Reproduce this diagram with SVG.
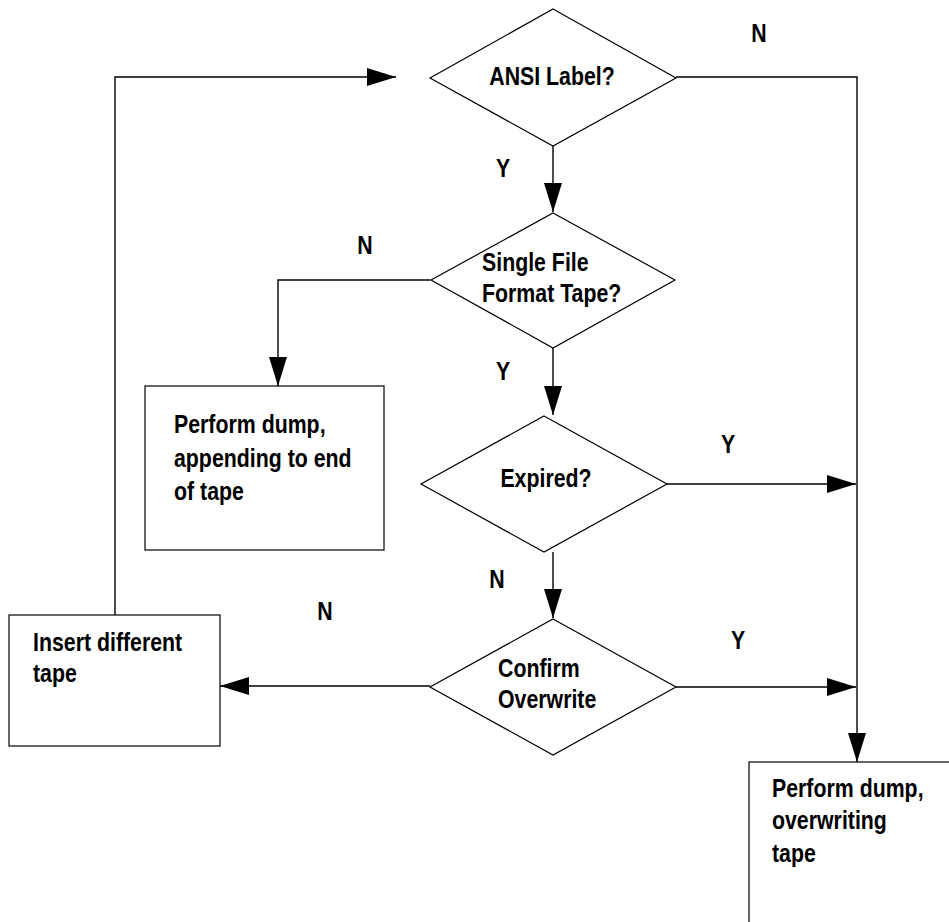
<svg xmlns="http://www.w3.org/2000/svg" width="949" height="922" viewBox="0 0 949 922">
  <style>
    .shape { fill: #ffffff; stroke: #000000; stroke-width: 1.2; }
    .link { fill: none; stroke: #000000; stroke-width: 1.4; }
    text { font-family: "Liberation Sans", Arial, sans-serif; font-weight: bold; font-size: 26px; fill: #000000; }
    .mid { text-anchor: middle; }
  </style>
  <defs>
    <marker id="arrow" markerUnits="userSpaceOnUse" markerWidth="30" markerHeight="18" refX="29" refY="9" orient="auto">
      <path d="M0,0 L29,9 L0,18 Z" fill="#000000"/>
    </marker>
  </defs>

  <!-- connectors -->
  <g id="connectors">
    <path class="link" d="M115,615 L115,77 L396,77" marker-end="url(#arrow)"/>
    <path class="link" d="M676,77 L857,77 L857,762" marker-end="url(#arrow)"/>
    <path class="link" d="M553,146 L553,212" marker-end="url(#arrow)"/>
    <path class="link" d="M430,280 L278,280 L278,386" marker-end="url(#arrow)"/>
    <path class="link" d="M553,348 L553,415" marker-end="url(#arrow)"/>
    <path class="link" d="M667,484 L856,484" marker-end="url(#arrow)"/>
    <path class="link" d="M553,552 L553,618" marker-end="url(#arrow)"/>
    <path class="link" d="M676,687 L856,687" marker-end="url(#arrow)"/>
    <path class="link" d="M430,686 L220,686" marker-end="url(#arrow)"/>
  </g>

  <!-- branch labels (condensed lettering via horizontal scale) -->
  <g id="labels">
    <text class="mid" transform="matrix(0.82 0 0 1 759 42)">N</text>
    <text class="mid" transform="matrix(0.82 0 0 1 503 177)">Y</text>
    <text class="mid" transform="matrix(0.82 0 0 1 365 254)">N</text>
    <text class="mid" transform="matrix(0.82 0 0 1 503 380)">Y</text>
    <text class="mid" transform="matrix(0.82 0 0 1 728 453)">Y</text>
    <text class="mid" transform="matrix(0.82 0 0 1 497 588)">N</text>
    <text class="mid" transform="matrix(0.82 0 0 1 325 620)">N</text>
    <text class="mid" transform="matrix(0.82 0 0 1 738 649)">Y</text>
  </g>

  <g id="ansi-label">
    <polygon class="shape" points="553,9 676,78 553,146 430,78"/>
    <text class="mid" transform="matrix(0.82 0 0 1 552 85)">ANSI Label?</text>
  </g>

  <g id="single-file">
    <polygon class="shape" points="553,213 675,280 553,348 431,280"/>
    <text transform="matrix(0.82 0 0 1 482 271)">Single File</text>
    <text transform="matrix(0.82 0 0 1 482 302)">Format Tape?</text>
  </g>

  <g id="append-dump">
    <rect class="shape" x="145" y="386" width="239" height="164"/>
    <text transform="matrix(0.82 0 0 1 174 433)">Perform dump,</text>
    <text transform="matrix(0.82 0 0 1 174 467)">appending to end</text>
    <text transform="matrix(0.82 0 0 1 174 500)">of tape</text>
  </g>

  <g id="expired">
    <polygon class="shape" points="544,416 667,484 544,552 421,484"/>
    <text class="mid" transform="matrix(0.82 0 0 1 546 487)">Expired?</text>
  </g>

  <g id="confirm-overwrite">
    <polygon class="shape" points="553,619 676,687 553,755 430,687"/>
    <text transform="matrix(0.82 0 0 1 498 677)">Confirm</text>
    <text transform="matrix(0.82 0 0 1 498 708)">Overwrite</text>
  </g>

  <g id="insert-tape">
    <rect class="shape" x="9" y="615" width="211" height="131"/>
    <text transform="matrix(0.82 0 0 1 33 651)">Insert different</text>
    <text transform="matrix(0.82 0 0 1 33 682)">tape</text>
  </g>

  <g id="overwrite-dump">
    <rect class="shape" x="749" y="762" width="300" height="200"/>
    <text transform="matrix(0.82 0 0 1 772 797)">Perform dump,</text>
    <text transform="matrix(0.82 0 0 1 772 829)">overwriting</text>
    <text transform="matrix(0.82 0 0 1 772 862)">tape</text>
  </g>
</svg>
